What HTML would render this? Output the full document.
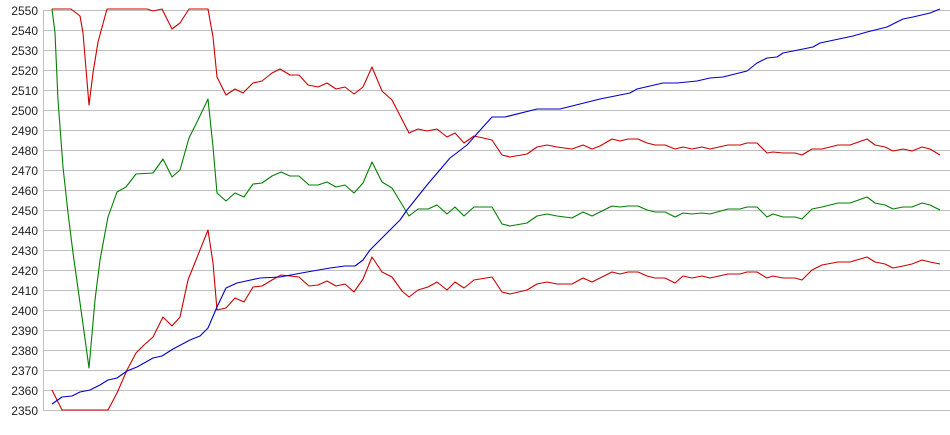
<!DOCTYPE html>
<html><head><meta charset="utf-8"><style>
html,body{margin:0;padding:0;background:#fff;}
svg{display:block;}
text{font-family:"Liberation Sans",Arial,sans-serif;font-size:12px;fill:#222;}
</style></head><body>
<svg width="950" height="435" xmlns="http://www.w3.org/2000/svg">
<g stroke="#c0c0c0" stroke-width="1" shape-rendering="crispEdges">
<line x1="43.5" y1="10" x2="43.5" y2="410"/>
<line x1="43" y1="10.5" x2="950" y2="10.5"/><line x1="43" y1="30.5" x2="950" y2="30.5"/><line x1="43" y1="50.5" x2="950" y2="50.5"/><line x1="43" y1="70.5" x2="950" y2="70.5"/><line x1="43" y1="90.5" x2="950" y2="90.5"/><line x1="43" y1="110.5" x2="950" y2="110.5"/><line x1="43" y1="130.5" x2="950" y2="130.5"/><line x1="43" y1="150.5" x2="950" y2="150.5"/><line x1="43" y1="170.5" x2="950" y2="170.5"/><line x1="43" y1="190.5" x2="950" y2="190.5"/><line x1="43" y1="210.5" x2="950" y2="210.5"/><line x1="43" y1="230.5" x2="950" y2="230.5"/><line x1="43" y1="250.5" x2="950" y2="250.5"/><line x1="43" y1="270.5" x2="950" y2="270.5"/><line x1="43" y1="290.5" x2="950" y2="290.5"/><line x1="43" y1="310.5" x2="950" y2="310.5"/><line x1="43" y1="330.5" x2="950" y2="330.5"/><line x1="43" y1="350.5" x2="950" y2="350.5"/><line x1="43" y1="370.5" x2="950" y2="370.5"/><line x1="43" y1="390.5" x2="950" y2="390.5"/><line x1="43" y1="410.5" x2="950" y2="410.5"/>
</g>
<g text-anchor="end">
<text x="38" y="15">2550</text><text x="38" y="35">2540</text><text x="38" y="55">2530</text><text x="38" y="75">2520</text><text x="38" y="95">2510</text><text x="38" y="115">2500</text><text x="38" y="135">2490</text><text x="38" y="155">2480</text><text x="38" y="175">2470</text><text x="38" y="195">2460</text><text x="38" y="215">2450</text><text x="38" y="235">2440</text><text x="38" y="255">2430</text><text x="38" y="275">2420</text><text x="38" y="295">2410</text><text x="38" y="315">2400</text><text x="38" y="335">2390</text><text x="38" y="355">2380</text><text x="38" y="375">2370</text><text x="38" y="395">2360</text><text x="38" y="415">2350</text>
</g>
<g fill="none" stroke-width="1.1" stroke-linejoin="round">
<polyline stroke="#cc0000" points="52,9 71,9 80,16 83,33 89,105 93,73 98,42 107,9 147,9 153,11 162,9 172,29 180,23 189,9 208,9 213,37 217,77 226,95 235,89 243,93 253,83 262,81 272,73 280,69 290,75 299,75 308,85 318,87 327,83 336,89 345,87 354,94 363,87 372,67 382,91 392,100 409,133 418,129 427,131 437,129 447,137 455,133 464,143 474,136 492,140 502,155 510,157 527,154 537,147 547,145 557,147 572,149 583,145 592,149 600,146 612,139 620,141 628,139 638,139 647,143 655,145 665,145 675,149 683,147 692,149 702,147 710,149 728,145 740,145 747,143 757,143 767,153 773,152 783,153 795,153 802,155 812,149 822,149 838,145 850,145 867,139 875,145 885,147 893,151 903,149 912,151 922,147 930,149 940,155"/>
<polyline stroke="#008000" points="52,9 55,33 58,100 63,167 68,213 73,253 82,317 89,368 95,300 100,260 108,217 117,192 126,187 136,174 153,173 163,159 172,177 180,170 189,138 198,120 208,99 213,147 217,193 226,201 235,193 244,197 253,184 262,183 272,176 281,172 290,176 299,176 309,185 318,185 327,182 336,187 345,185 354,193 363,183 372,162 382,182 392,188 409,216 418,209 428,209 437,205 447,214 455,207 464,216 474,207 492,207 502,224 510,226 527,223 537,216 547,214 557,216 572,218 583,212 592,216 600,212 612,206 620,207 628,206 638,206 647,210 655,212 665,212 675,217 683,213 692,214 702,213 710,214 728,209 740,209 747,207 757,207 767,217 773,214 783,217 795,217 802,219 812,209 822,207 838,203 850,203 867,197 875,203 885,205 893,209 903,207 912,207 922,203 930,205 940,210"/>
<polyline stroke="#cc0000" points="52,390 62,410 108,410 117,393 127,370 136,353 144,345 153,337 163,317 172,326 180,317 188,280 208,230 213,263 217,310 226,308 235,298 244,302 253,287 262,286 272,280 281,275 299,277 309,286 318,285 327,281 336,286 345,284 354,292 363,279 372,257 382,272 392,277 402,291 409,297 418,290 428,287 437,282 447,290 455,282 464,288 474,280 492,277 502,292 510,294 527,290 537,284 547,282 557,284 572,284 583,278 592,282 600,278 612,272 620,274 628,272 638,272 647,276 655,278 665,278 675,283 683,276 692,278 702,276 710,278 728,274 740,274 747,272 757,272 767,278 773,276 783,278 795,278 802,280 812,270 822,265 838,262 850,262 867,257 875,262 885,264 893,268 903,266 912,264 922,260 930,262 940,264"/>
<polyline stroke="#0000cc" points="52,404 62,397 72,396 80,392 90,390 100,385 108,380 117,378 127,371 137,367 153,358 162,356 173,349 190,340 200,336 208,328 217,307 226,288 237,283 260,278 280,277 307,272 330,268 345,266 355,266 363,260 370,250 400,220 407,210 427,185 450,158 467,145 483,127 492,117 505,117 537,109 560,109 600,99 630,93 637,89 663,83 677,83 697,81 710,78 723,77 747,71 757,63 767,58 777,57 783,53 813,47 820,43 853,36 867,32 887,27 903,19 913,17 930,13 940,9"/>
</g>
</svg>
</body></html>
